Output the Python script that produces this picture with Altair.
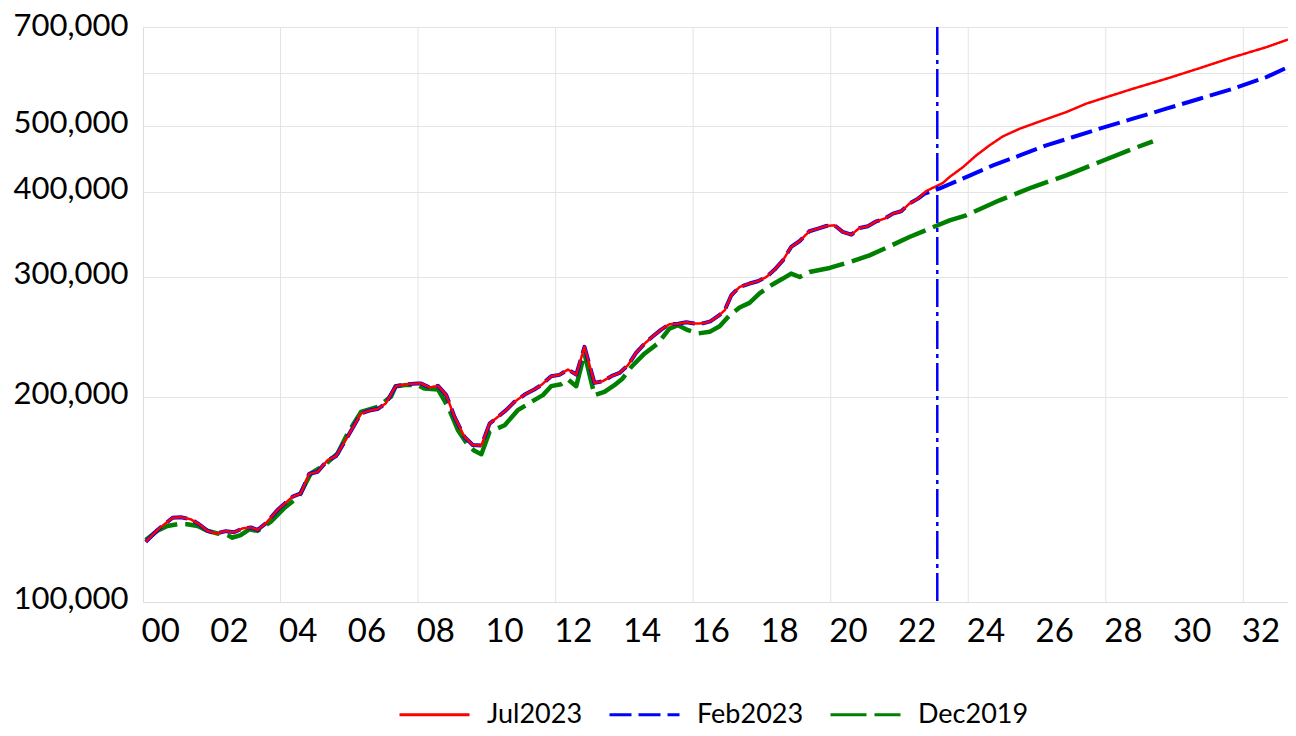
import altair as alt
import pandas as pd

# ---------------- data ----------------
series_names = ["Jul2023", "Feb2023", "Dec2019"]
series_colors = ["#ff0000", "#0000ff", "#008000"]
series_dashes = [[1, 0], [22, 7], [36, 8]]

jul_years = [2000.08, 2000.42, 2000.86, 2001.10, 2001.39, 2001.63, 2001.88, 2002.12, 2002.41, 2002.65,
             2002.90, 2003.14, 2003.33, 2003.57, 2003.91, 2004.35, 2004.59, 2004.83, 2005.08, 2005.37,
             2005.61, 2005.95, 2006.34, 2006.63, 2006.82, 2007.06, 2007.35, 2007.69, 2007.98, 2008.09,
             2008.33, 2008.58, 2008.82, 2009.06, 2009.35, 2009.59, 2009.84, 2010.08, 2010.32, 2010.56,
             2010.80, 2011.10, 2011.38, 2011.58, 2011.87, 2012.11, 2012.36, 2012.60, 2012.84, 2013.13,
             2013.37, 2013.62, 2013.86, 2014.10, 2014.34, 2014.59, 2014.83, 2015.07, 2015.31, 2015.56,
             2015.80, 2016.04, 2016.28, 2016.50, 2016.74, 2016.92, 2017.11, 2017.35, 2017.64, 2017.88,
             2018.13, 2018.37, 2018.61, 2018.85, 2019.10, 2019.38, 2019.63, 2019.87, 2020.11, 2020.35,
             2020.60, 2020.84, 2021.08, 2021.33, 2021.57, 2021.81, 2022.05, 2022.29, 2022.54, 2022.78,
             2023.02, 2023.26, 2023.46, 2023.85, 2024.23, 2024.62, 2025.01, 2025.50, 2026.17, 2026.85,
             2027.43, 2028.02, 2028.79, 2029.76, 2030.73, 2031.70, 2032.67, 2033.30]
jul_values = [122600, 127600, 133000, 133200, 132300, 130100, 127200, 126100, 127100, 126600,
              128300, 128700, 127600, 130500, 136500, 142800, 144400, 154200, 155400, 161600,
              163800, 174900, 189300, 191400, 192100, 195800, 207600, 209000, 209500, 209500,
              206700, 207800, 201400, 187100, 174900, 170100, 169800, 182900, 187100, 191400,
              196800, 201800, 205300, 208300, 214700, 215700, 219600, 215900, 237100, 209900,
              211100, 214700, 217100, 222800, 232300, 239800, 245800, 251400, 256000, 256400,
              257700, 256600, 256800, 258500, 263500, 268500, 282400, 290400, 293800, 296100,
              300400, 308000, 317800, 332500, 339300, 350700, 353900, 357000, 357800, 349900,
              346700, 354600, 356600, 362700, 366000, 372200, 375200, 385000, 391600, 401800,
              407300, 412800, 421500, 435700, 453200, 469000, 483500, 496200, 510400, 524800,
              540000, 552100, 568000, 587500, 609000, 632000, 653800, 671000]

feb_years = [2000.08, 2000.42, 2000.86, 2001.10, 2001.39, 2001.63, 2001.88, 2002.12, 2002.41, 2002.65,
             2002.90, 2003.14, 2003.33, 2003.57, 2003.91, 2004.35, 2004.59, 2004.83, 2005.08, 2005.37,
             2005.61, 2005.95, 2006.34, 2006.63, 2006.82, 2007.06, 2007.35, 2007.69, 2007.98, 2008.09,
             2008.33, 2008.58, 2008.82, 2009.06, 2009.35, 2009.59, 2009.84, 2010.08, 2010.32, 2010.56,
             2010.80, 2011.10, 2011.38, 2011.58, 2011.87, 2012.11, 2012.36, 2012.60, 2012.84, 2013.13,
             2013.37, 2013.62, 2013.86, 2014.10, 2014.34, 2014.59, 2014.83, 2015.07, 2015.31, 2015.56,
             2015.80, 2016.04, 2016.28, 2016.50, 2016.74, 2016.92, 2017.11, 2017.35, 2017.64, 2017.88,
             2018.13, 2018.37, 2018.61, 2018.85, 2019.10, 2019.38, 2019.63, 2019.87, 2020.11, 2020.35,
             2020.60, 2020.84, 2021.08, 2021.33, 2021.57, 2021.81, 2022.05, 2022.29, 2022.54, 2022.73,
             2023.16, 2023.94, 2024.72, 2025.50, 2026.27, 2027.05, 2027.82, 2028.79, 2029.76, 2030.73,
             2031.70, 2032.67, 2033.30]
feb_values = [122600, 127600, 133000, 133200, 132300, 130100, 127200, 126100, 127100, 126600,
              128300, 128700, 127600, 130500, 136500, 142800, 144400, 154200, 155400, 161600,
              163800, 174900, 189300, 191400, 192100, 195800, 207600, 209000, 209500, 209500,
              206700, 207800, 201400, 187100, 174900, 170100, 169800, 182900, 187100, 191400,
              196800, 201800, 205300, 208300, 214700, 215700, 219600, 215900, 237100, 209900,
              211100, 214700, 217100, 222800, 232300, 239800, 245800, 251400, 256000, 256400,
              257700, 256600, 256800, 258500, 263500, 268500, 282400, 290400, 293800, 296100,
              300400, 308000, 317800, 332500, 339300, 350700, 353900, 357000, 357800, 349900,
              346700, 354600, 356600, 362700, 366000, 372200, 375200, 385000, 391600, 398300,
              405100, 421200, 438300, 453200, 469000, 482400, 496200, 513300, 530900, 549100,
              568000, 590700, 611200]

dec_years = [2000.08, 2000.42, 2000.71, 2001.00, 2001.29, 2001.59, 2001.88, 2002.17, 2002.46, 2002.60,
             2002.84, 2003.09, 2003.33, 2003.72, 2004.10, 2004.54, 2004.88, 2005.27, 2005.66, 2005.95,
             2006.34, 2006.82, 2007.21, 2007.35, 2007.69, 2007.98, 2008.18, 2008.58, 2008.87, 2009.16,
             2009.45, 2009.64, 2009.84, 2010.08, 2010.52, 2010.90, 2011.38, 2011.63, 2011.87, 2012.16,
             2012.36, 2012.60, 2012.84, 2013.13, 2013.42, 2013.71, 2013.95, 2014.20, 2014.59, 2014.97,
             2015.31, 2015.56, 2015.85, 2016.14, 2016.48, 2016.77, 2017.06, 2017.35, 2017.64, 2017.93,
             2018.27, 2018.61, 2018.85, 2019.10, 2019.38, 2019.97, 2020.55, 2021.13, 2021.71, 2022.29,
             2022.88, 2023.46, 2023.94, 2024.91, 2025.88, 2026.85, 2027.82, 2028.79, 2029.37]
dec_values = [123300, 127300, 129300, 130100, 130100, 129300, 127200, 126100, 125400, 124300,
              125400, 127900, 127200, 131200, 137300, 143100, 154500, 158900, 165300, 176900,
              190300, 193600, 200300, 207600, 208500, 208500, 206000, 205300, 193600, 178900,
              170100, 166800, 164900, 177900, 181900, 191400, 198000, 201400, 207600, 209000,
              212400, 207600, 231900, 201400, 203600, 208300, 213100, 221500, 231900, 239800,
              252300, 255200, 250900, 248100, 249500, 254300, 263900, 270900, 275200, 284100,
              292100, 298800, 303900, 300400, 305500, 309700, 316000, 323200, 333200, 343900,
              353900, 363900, 370100, 389400, 407300, 423600, 443300, 463700, 475300]

x_label_years = list(range(2000, 2033, 2))
x_grid_years = [2004, 2008, 2012, 2016, 2020, 2024, 2028, 2032]
y_ticks = [100000, 200000, 300000, 400000, 500000, 600000, 700000]
vline_year = [2023.1]

# ---------------- tables ----------------
df = pd.concat([
    pd.DataFrame({"year": jul_years, "value": jul_values, "series": "Jul2023"}),
    pd.DataFrame({"year": feb_years, "value": feb_values, "series": "Feb2023"}),
    pd.DataFrame({"year": dec_years, "value": dec_values, "series": "Dec2019"}),
], ignore_index=True)

FONT = "Lato"
x_scale = alt.Scale(domain=[2000, 2033.3], nice=False, zero=False)
y_scale = alt.Scale(type="log", domain=[100000, 700000], nice=False)

x_axis = alt.Axis(
    values=[y + 0.5 for y in x_label_years],
    labelExpr="slice('0' + (floor(datum.value) % 100), -2)",
    grid=False, domain=False, ticks=False, title=None,
    labelFontSize=33, labelFont=FONT, labelColor="#000000",
    labelPadding=13, labelOverlap=False, labelFlush=False,
)
y_axis = alt.Axis(
    values=y_ticks,
    labelExpr="datum.value == 600000 ? '' : format(datum.value, ',')",
    grid=True,
    gridColor={"condition": {"test": "datum.value == 100000", "value": "transparent"},
               "value": "#e4e4e4"},
    gridWidth=1,
    domain=False, ticks=False, title=None,
    labelFontSize=31, labelFont=FONT, labelColor="#000000",
    labelPadding=15, labelOverlap=False,
    labelOffset={"condition": {"test": "datum.value == 700000", "value": -1}, "value": -3},
)

legend = alt.Legend(
    title=None, orient="none", direction="horizontal",
    legendX=255, legendY=651,
    symbolType="stroke", symbolSize=4900, symbolStrokeWidth=3,
    labelFontSize=27, labelFont=FONT, labelColor="#000000",
    labelOffset=16, columnPadding=20, padding=0,
)

color_enc = alt.Color("series:N", scale=alt.Scale(domain=series_names, range=series_colors),
                      legend=legend)
dash_enc = alt.StrokeDash("series:N", scale=alt.Scale(domain=series_names, range=series_dashes),
                          legend=legend)

grid = alt.Chart(pd.DataFrame({"year": x_grid_years})).mark_rule(
    color="#e4e4e4", strokeWidth=1
).encode(x=alt.X("year:Q", scale=x_scale, axis=x_axis))

widths = {"Dec2019": 4.5, "Feb2023": 4, "Jul2023": 2.5}
line_layers = []
for name in ["Dec2019", "Feb2023", "Jul2023"]:
    line_layers.append(
        alt.Chart(df).transform_filter(alt.datum.series == name).mark_line(
            strokeWidth=widths[name], strokeCap="butt", strokeJoin="round"
        ).encode(
            x=alt.X("year:Q", scale=x_scale, axis=x_axis),
            y=alt.Y("value:Q", scale=y_scale, axis=y_axis),
            color=color_enc,
            strokeDash=dash_enc,
        )
    )

vline = alt.Chart(pd.DataFrame({"year": vline_year})).mark_rule(
    color="#0000ff", strokeWidth=2.5, strokeDash=[28, 5, 4, 5]
).encode(x=alt.X("year:Q", scale=x_scale, axis=x_axis))

chart = alt.layer(grid, *line_layers, vline).properties(
    width=1145, height=575,
    autosize="none",
    padding={"left": 135, "top": 19, "right": 0, "bottom": 126},
).configure_view(stroke=None).configure(font=FONT)

chart.save("out.html", embed_options={"renderer": "svg", "actions": False})
